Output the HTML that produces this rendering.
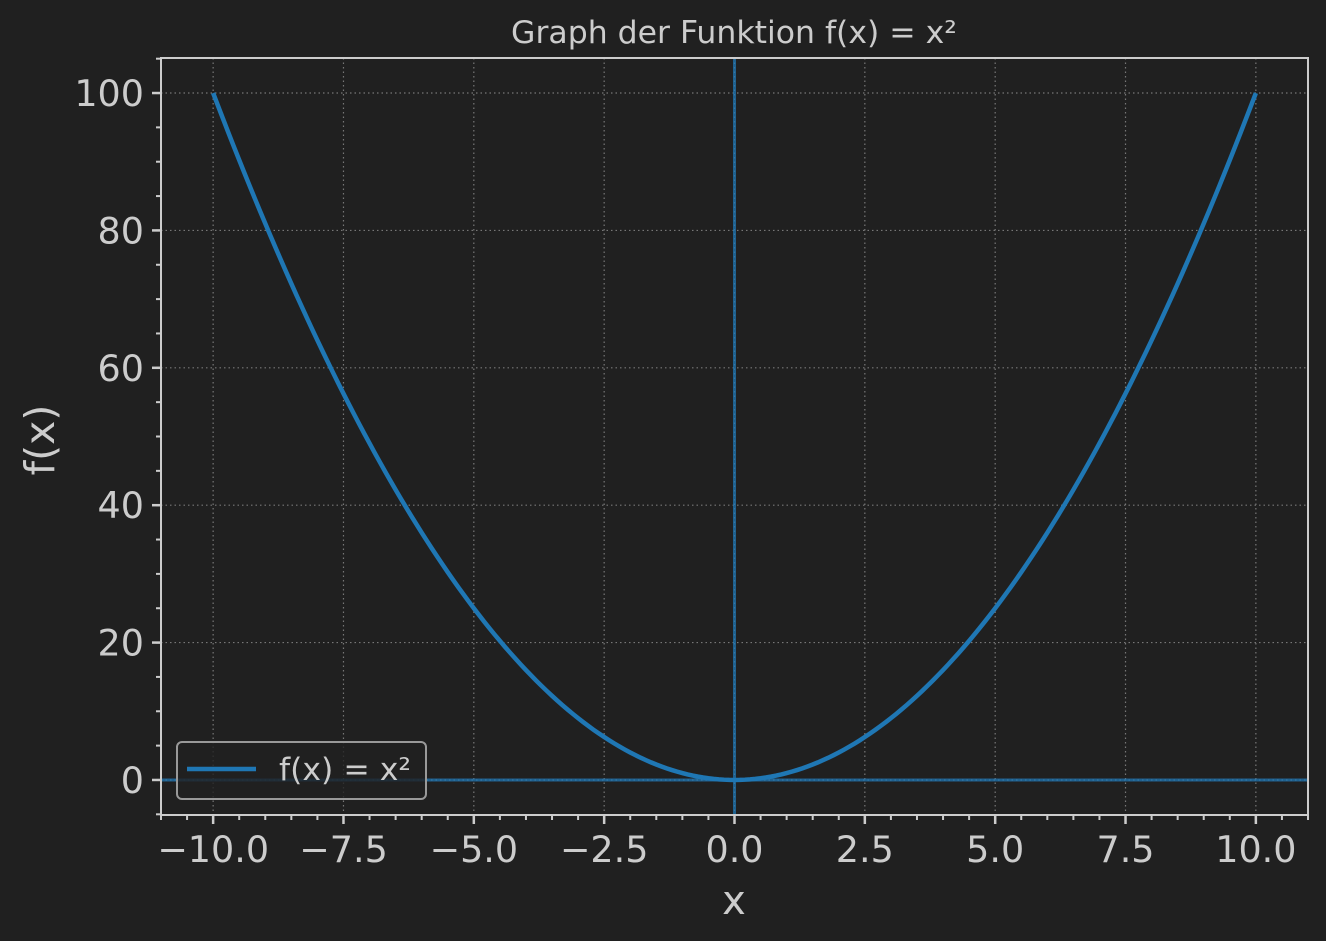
<!DOCTYPE html>
<html><head><meta charset="utf-8"><style>
body{margin:0;background:#202020;}
svg{display:block;font-family:"DejaVu Sans","Liberation Sans",sans-serif;}
</style></head><body>
<svg id="c" width="1326" height="941">
<rect width="1326" height="941" fill="#202020"/>
</svg>
<script>
const xTicks=[-10,-7.5,-5,-2.5,0,2.5,5,7.5,10];
const xTickLabels=["\u221210.0","\u22127.5","\u22125.0","\u22122.5","0.0","2.5","5.0","7.5","10.0"];
const yTicks=[0,20,40,60,80,100];
const yTickLabels=["0","20","40","60","80","100"];
const xMin=-10, xMax=10, nPts=201;
const xs=[];for(let i=0;i<nPts;i++)xs.push(xMin+(xMax-xMin)*i/(nPts-1));
const ys=xs.map(v=>v*v);

const L=161,R=1308,T=58,B=815;
const X0=-11,X1=11,Y0=-5.1,Y1=105.1;
const sx=v=>L+(v-X0)/(X1-X0)*(R-L);
const sy=v=>B-(v-Y0)/(Y1-Y0)*(B-T);
const svg=document.getElementById('c');
const NS='http://www.w3.org/2000/svg';
function mk(t,a,p){const e=document.createElementNS(NS,t);for(const k in a)e.setAttribute(k,a[k]);(p||svg).appendChild(e);return e;}
xTicks.forEach(v=>{const e=mk('line',{x1:sx(v),x2:sx(v),y1:T,y2:B,stroke:'#777',"stroke-width":1.2,"stroke-dasharray":"1.5,3"});

});
yTicks.forEach(v=>{const e=mk('line',{x1:L,x2:R,y1:sy(v),y2:sy(v),stroke:'#777',"stroke-width":1.2,"stroke-dasharray":"1.5,3"});

});
let z=mk('line',{x1:L,x2:R,y1:sy(0),y2:sy(0),stroke:'#1f77b4',"stroke-opacity":0.75,"stroke-width":3});


z=mk('line',{x1:sx(0),x2:sx(0),y1:T,y2:B,stroke:'#1f77b4',"stroke-opacity":0.75,"stroke-width":3});


const p=mk('path',{d:xs.map((v,i)=>(i?'L':'M')+sx(v).toFixed(2)+','+sy(ys[i]).toFixed(2)).join(''),fill:'none',stroke:'#1f77b4',"stroke-width":4.5});


const f=mk('rect',{x:L,y:T,width:R-L,height:B-T,fill:'none',stroke:'#cccccc',"stroke-width":2});


for(let v=-11;v<=11.001;v+=0.5){const e=mk('line',{x1:sx(v),x2:sx(v),y1:B,y2:B+5,stroke:'#ccc',"stroke-width":2});

}
for(let v=-5;v<=105;v+=5){const e=mk('line',{x1:L-5,x2:L,y1:sy(v),y2:sy(v),stroke:'#ccc',"stroke-width":2});

}
xTicks.forEach((v,i)=>{const e=mk('line',{x1:sx(v),x2:sx(v),y1:B,y2:B+9,stroke:'#ccc',"stroke-width":2.5});


const t=mk('text',{x:sx(v),y:862,"text-anchor":"middle","font-size":36.5,fill:'#cccccc'});t.textContent=xTickLabels[i];

});
yTicks.forEach((v,i)=>{const e=mk('line',{x1:L-9,x2:L,y1:sy(v),y2:sy(v),stroke:'#ccc',"stroke-width":2.5});


const t=mk('text',{x:144,y:sy(v)+13,"text-anchor":"end","font-size":36.5,fill:'#cccccc'});t.textContent=yTickLabels[i];

});
let t=mk('text',{x:734,y:43,"text-anchor":"middle","font-size":31.5,fill:'#cccccc'});t.textContent='Graph der Funktion f(x) = x²';


t=mk('text',{x:734,y:914,"text-anchor":"middle","font-size":40,fill:'#cccccc'});t.textContent='x';


t=mk('text',{x:54,y:440,"text-anchor":"middle","font-size":41,fill:'#cccccc',transform:'rotate(-90 54 440)'});t.textContent='f(x)';


const g=mk('g',{});


mk('rect',{x:177,y:742,width:249,height:57,rx:5,fill:'#202020',"fill-opacity":0.8,stroke:'#999',"stroke-width":2},g);
mk('line',{x1:187,x2:256,y1:769,y2:769,stroke:'#1f77b4',"stroke-width":4.5},g);
t=mk('text',{x:279,y:780,"font-size":31.5,fill:'#cccccc'},g);t.textContent='f(x) = x²';


</script>
</body></html>
